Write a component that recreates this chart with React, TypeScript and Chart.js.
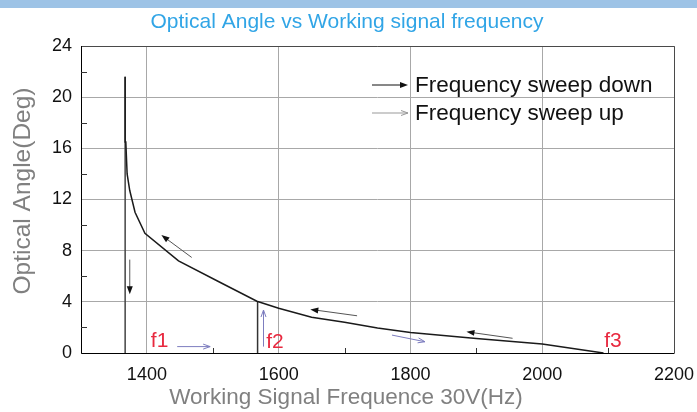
import React, { useEffect, useRef } from 'react';
import { Chart, registerables } from 'chart.js';
Chart.register(...registerables);

const FONT = "'Liberation Sans', Arial, sans-serif";

// main sweep curve (frequency in Hz, optical angle in degrees)
const sweepFreq = [2093, 2000, 1900, 1800, 1750, 1700, 1650, 1600, 1567, 1510, 1448, 1397, 1382, 1374, 1370, 1368, 1367];
const sweepAngle = [0, 0.7, 1.13, 1.6, 1.95, 2.4, 2.8, 3.5, 4.05, 5.55, 7.2, 9.35, 11.0, 12.7, 14.0, 16.5, 21.6];
// jump lines
const f1DropFreq = [1367, 1367];
const f1DropAngle = [21.6, 0];
const f2RiseFreq = [1568, 1568];
const f2RiseAngle = [0, 4.05];

const xTickValues = [1400, 1600, 1800, 2000, 2200];
const yTickValues = [0, 4, 8, 12, 16, 20, 24];
const xMinorTicks = [1500, 1700, 1900, 2100];
const yMinorTicks = [2, 6, 10, 14, 18, 22];

// direction arrows (data coords)
const downArrowFromX = [1374, 1468, 1719, 1955];
const downArrowFromY = [7.3, 7.47, 2.91, 1.15];
const downArrowToX = [1374, 1422, 1648, 1885];
const downArrowToY = [4.6, 9.22, 3.41, 1.66];
const upArrowFromX = [1446, 1577, 1772];
const upArrowFromY = [0.5, 0.5, 1.4];
const upArrowToX = [1496, 1577, 1822];
const upArrowToY = [0.5, 3.36, 0.88];

const markerLabels = ['f1', 'f2', 'f3'];
const markerFreq = [1406, 1581, 2094];
const markerAngle = [0.45, 0.4, 0.5];

const legendLabels = ['Frequency sweep down', 'Frequency sweep up'];

const TITLE = 'Optical Angle vs Working signal frequency';
const X_TITLE = 'Working Signal Frequence 30V(Hz)';
const Y_TITLE = 'Optical Angle(Deg)';

function filledArrow(ctx: CanvasRenderingContext2D, x1: number, y1: number, x2: number, y2: number, color: string, headColor: string) {
  const ang = Math.atan2(y2 - y1, x2 - x1);
  const hl = 8, hw = 3;
  ctx.save();
  ctx.strokeStyle = color;
  ctx.lineWidth = 1;
  ctx.beginPath();
  ctx.moveTo(x1, y1);
  ctx.lineTo(x2 - hl * 0.8 * Math.cos(ang), y2 - hl * 0.8 * Math.sin(ang));
  ctx.stroke();
  ctx.fillStyle = headColor;
  ctx.beginPath();
  ctx.moveTo(x2, y2);
  ctx.lineTo(x2 - hl * Math.cos(ang) + hw * Math.sin(ang), y2 - hl * Math.sin(ang) - hw * Math.cos(ang));
  ctx.lineTo(x2 - hl * Math.cos(ang) - hw * Math.sin(ang), y2 - hl * Math.sin(ang) + hw * Math.cos(ang));
  ctx.closePath();
  ctx.fill();
  ctx.restore();
}

function openArrow(ctx: CanvasRenderingContext2D, x1: number, y1: number, x2: number, y2: number, color: string) {
  const ang = Math.atan2(y2 - y1, x2 - x1);
  const hl = 7, hw = 2.5;
  ctx.save();
  ctx.strokeStyle = color;
  ctx.lineWidth = 1;
  ctx.beginPath();
  ctx.moveTo(x1, y1);
  ctx.lineTo(x2, y2);
  ctx.moveTo(x2 - hl * Math.cos(ang) + hw * Math.sin(ang), y2 - hl * Math.sin(ang) - hw * Math.cos(ang));
  ctx.lineTo(x2, y2);
  ctx.lineTo(x2 - hl * Math.cos(ang) - hw * Math.sin(ang), y2 - hl * Math.sin(ang) + hw * Math.cos(ang));
  ctx.stroke();
  ctx.restore();
}

const decorPlugin = {
  id: 'decor',
  beforeDraw(chart: any) {
    const ctx = chart.ctx as CanvasRenderingContext2D;
    ctx.save();
    ctx.fillStyle = '#ffffff';
    ctx.fillRect(0, 0, chart.width, chart.height);
    ctx.fillStyle = '#9dc3e6';
    ctx.fillRect(0, 0, chart.width, 8);
    ctx.restore();
  },
  afterDraw(chart: any) {
    const ctx = chart.ctx as CanvasRenderingContext2D;
    const { left, right, top, bottom } = chart.chartArea;
    const xs = chart.scales.x;
    const ys = chart.scales.y;
    ctx.save();
    // frame
    ctx.lineWidth = 1;
    ctx.strokeStyle = '#4a4a4a';
    ctx.beginPath();
    ctx.moveTo(left, top + 0.5);
    ctx.lineTo(right + 0.5, top + 0.5);
    ctx.lineTo(right + 0.5, bottom);
    ctx.stroke();
    ctx.strokeStyle = '#000';
    ctx.beginPath();
    ctx.moveTo(left + 0.5, top);
    ctx.lineTo(left + 0.5, bottom + 0.5);
    ctx.lineTo(right + 0.5, bottom + 0.5);
    ctx.stroke();
    // inward minor ticks
    ctx.strokeStyle = '#333';
    ctx.beginPath();
    xMinorTicks.forEach(v => {
      const px = Math.round(xs.getPixelForValue(v)) + 0.5;
      ctx.moveTo(px, bottom);
      ctx.lineTo(px, bottom - 5);
    });
    yMinorTicks.forEach(v => {
      const py = Math.round(ys.getPixelForValue(v)) + 0.5;
      ctx.moveTo(left, py);
      ctx.lineTo(left + 6, py);
    });
    ctx.stroke();

    // arrows
    downArrowFromX.forEach((_, i) => {
      filledArrow(ctx, xs.getPixelForValue(downArrowFromX[i]), ys.getPixelForValue(downArrowFromY[i]),
        xs.getPixelForValue(downArrowToX[i]), ys.getPixelForValue(downArrowToY[i]), '#555', '#111');
    });
    upArrowFromX.forEach((_, i) => {
      openArrow(ctx, xs.getPixelForValue(upArrowFromX[i]), ys.getPixelForValue(upArrowFromY[i]),
        xs.getPixelForValue(upArrowToX[i]), ys.getPixelForValue(upArrowToY[i]), '#7d7dbf');
    });

    // f labels
    ctx.fillStyle = '#e8293f';
    ctx.font = `21px ${FONT}`;
    ctx.textAlign = 'left';
    ctx.textBaseline = 'alphabetic';
    markerLabels.forEach((t, i) => {
      ctx.fillText(t, xs.getPixelForValue(markerFreq[i]), ys.getPixelForValue(markerAngle[i]));
    });

    // legend
    ctx.font = `22.5px ${FONT}`;
    ctx.fillStyle = '#111';
    filledArrow(ctx, 372, 85, 408, 85, '#111', '#111');
    openArrow(ctx, 372, 113, 408, 113, '#999');
    ctx.fillText(legendLabels[0], 415, 92);
    ctx.fillText(legendLabels[1], 415, 120);

    // titles
    ctx.fillStyle = '#31a5e6';
    ctx.font = `21px ${FONT}`;
    ctx.textAlign = 'center';
    ctx.fillText(TITLE, 347, 28);

    ctx.fillStyle = '#808080';
    ctx.font = `22.5px ${FONT}`;
    ctx.textBaseline = 'middle';
    ctx.fillText(X_TITLE, 346, 398);

    ctx.save();
    ctx.translate(23, 191);
    ctx.rotate(-Math.PI / 2);
    ctx.font = `24.5px ${FONT}`;
    ctx.fillText(Y_TITLE, 0, 0);
    ctx.restore();

    ctx.restore();
  }
};

export default function App() {
  const ref = useRef<HTMLCanvasElement | null>(null);
  useEffect(() => {
    if (!ref.current) return;
    const lineStyle = { showLine: true, pointRadius: 0, tension: 0, fill: false };
    const chart = new Chart(ref.current, {
      type: 'scatter',
      data: {
        datasets: [
          { ...lineStyle, data: sweepFreq.map((f, i) => ({ x: f, y: sweepAngle[i] })), borderColor: '#1a1a1a', borderWidth: 1.5 },
          { ...lineStyle, data: f1DropFreq.map((f, i) => ({ x: f, y: f1DropAngle[i] })), borderColor: '#444', borderWidth: 1.5 },
          { ...lineStyle, data: f2RiseFreq.map((f, i) => ({ x: f, y: f2RiseAngle[i] })), borderColor: '#333', borderWidth: 1.5 },
        ] as any,
      },
      options: {
        animation: false,
        responsive: false,
        maintainAspectRatio: false,
        layout: { padding: { top: 46, right: 23, left: 0, bottom: 0 } },
        plugins: { legend: { display: false }, tooltip: { enabled: false }, title: { display: false } },
        scales: {
          x: {
            type: 'linear',
            min: 1300,
            max: 2200,
            afterBuildTicks: (s: any) => { s.ticks = xTickValues.map(v => ({ value: v })); },
            afterFit: (s: any) => { s.height = 59; s.paddingLeft = 0; s.paddingRight = 0; },
            ticks: { color: '#111', font: { family: FONT, size: 18 }, padding: 11, callback: (v: any) => String(v), maxRotation: 0 },
            grid: { color: '#a8a8a8', drawTicks: false, lineWidth: 1 },
            border: { display: false },
          },
          y: {
            type: 'linear',
            min: 0,
            max: 24,
            afterBuildTicks: (s: any) => { s.ticks = yTickValues.map(v => ({ value: v })); },
            afterFit: (s: any) => { s.width = 81; s.paddingTop = 0; s.paddingBottom = 0; },
            ticks: { color: '#111', font: { family: FONT, size: 18 }, padding: 9, callback: (v: any) => String(v) },
            grid: { color: '#a8a8a8', drawTicks: false, lineWidth: 1 },
            border: { display: false },
          },
        },
      } as any,
      plugins: [decorPlugin],
    });
    return () => chart.destroy();
  }, []);
  return (
    <div style={{ position: 'absolute', left: 0, top: 0, width: 697, height: 412 }}>
      <canvas ref={ref} width={697} height={412} style={{ width: 697, height: 412 }} />
    </div>
  );
}
